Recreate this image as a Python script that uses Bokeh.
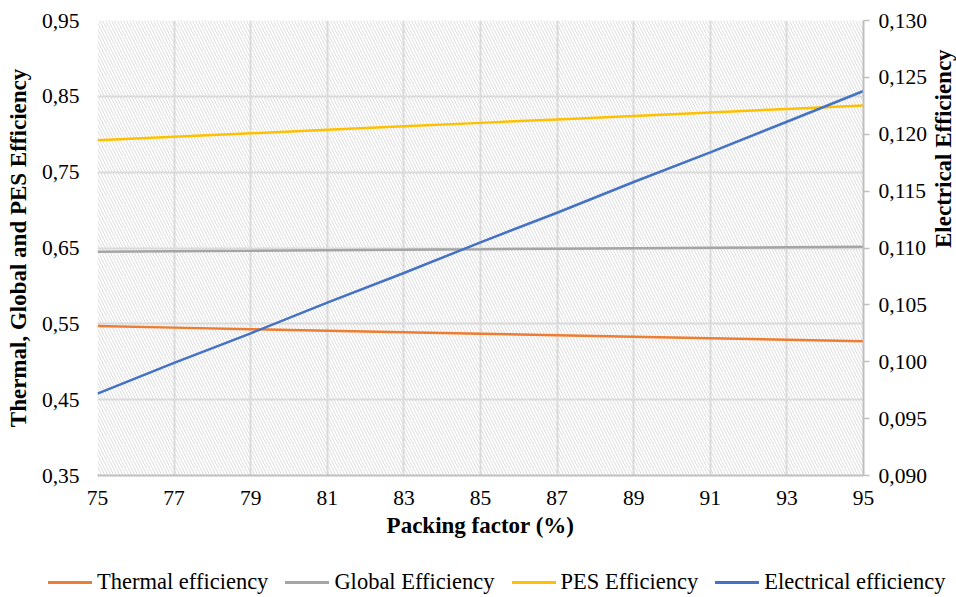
import math
from bokeh.plotting import figure
from bokeh.layouts import column
from bokeh.models import (Range1d, LinearAxis, FixedTicker, CustomJSTickFormatter,
                          BoxAnnotation, Div)
from bokeh.embed import file_html
from bokeh.resources import INLINE

# ---- data ----
packing = [75, 77, 79, 81, 83, 85, 87, 89, 91, 93, 95]
thermal = [0.547, 0.545, 0.543, 0.541, 0.539, 0.537, 0.535, 0.533, 0.531, 0.529, 0.527]
global_eff = [0.645, 0.6457, 0.6463, 0.647, 0.6477, 0.6483, 0.649, 0.6497, 0.6503, 0.651, 0.6515]
pes = [0.792, 0.7966, 0.8012, 0.8058, 0.8104, 0.815, 0.8196, 0.8242, 0.8288, 0.8334, 0.838]
electrical = [0.0972, 0.0999, 0.1025, 0.1052, 0.1078, 0.1105, 0.1131, 0.1158, 0.1184, 0.1211, 0.1238]

x_ticks = [75, 77, 79, 81, 83, 85, 87, 89, 91, 93, 95]
left_ticks = [0.35, 0.45, 0.55, 0.65, 0.75, 0.85, 0.95]
right_ticks = [0.090, 0.095, 0.100, 0.105, 0.110, 0.115, 0.120, 0.125, 0.130]

series_names = ["Thermal efficiency", "Global Efficiency", "PES Efficiency", "Electrical efficiency"]
colors = ["#ED7D31", "#A5A5A5", "#FFC000", "#4472C4"]

FONT = "Liberation Serif"
GRID = "#D9D9D9"
TICK_FS = "21.5px"
TITLE_FS = "23px"

p = figure(frame_width=766, frame_height=455, output_backend="svg", toolbar_location=None,
           x_range=Range1d(75, 95), y_range=Range1d(0.35, 0.95),
           min_border_left=97, min_border_right=93, min_border_top=20, min_border_bottom=86)
p.outline_line_color = None
p.background_fill_color = "white"

# hatched plot area
p.add_layout(BoxAnnotation(left=75, right=95, bottom=0.35, top=0.95,
                           fill_alpha=0, line_color=None,
                           hatch_pattern="left_diagonal_line", hatch_color="#DDDDDD",
                           hatch_scale=6, hatch_weight=1, hatch_alpha=1.0, level="underlay"))

p.extra_y_ranges = {"elec": Range1d(0.090, 0.130)}

# axes
p.xaxis.ticker = FixedTicker(ticks=x_ticks)
p.xaxis.axis_label = "Packing factor (%)"
p.yaxis.ticker = FixedTicker(ticks=left_ticks)
p.yaxis.axis_label = "Thermal, Global and PES Efficiency"
p.yaxis.formatter = CustomJSTickFormatter(code="return tick.toFixed(2).replace('.', ',');")

raxis = LinearAxis(y_range_name="elec", ticker=FixedTicker(ticks=right_ticks),
                   formatter=CustomJSTickFormatter(code="return tick.toFixed(3).replace('.', ',');"),
                   axis_label="Electrical Efficiency")
try:
    raxis.axis_label_orientation = math.pi / 2
except Exception:
    pass
p.add_layout(raxis, "right")

for ax in [p.xaxis[0], p.yaxis[0], raxis]:
    ax.major_label_text_font = FONT
    ax.major_label_text_font_size = TICK_FS
    ax.major_label_text_color = "#000000"
    ax.axis_label_text_font = FONT
    ax.axis_label_text_font_style = "bold"
    ax.axis_label_text_font_size = TITLE_FS
    ax.axis_label_text_color = "#000000"
    ax.minor_tick_line_color = None

p.xaxis.major_tick_line_color = None
p.yaxis.major_tick_line_color = None
p.yaxis.axis_line_color = None
p.yaxis.major_label_standoff = 12
p.yaxis.axis_label_standoff = 8
p.xaxis.axis_line_color = "#BFBFBF"
p.xaxis.axis_line_width = 2
p.xaxis.major_label_standoff = 9
p.xaxis.axis_label_standoff = 5

raxis.axis_line_color = "#BFBFBF"
raxis.axis_line_width = 2
raxis.major_tick_line_color = "#BFBFBF"
raxis.major_tick_line_width = 1.5
raxis.major_tick_out = 6
raxis.major_tick_in = 0
raxis.major_label_standoff = 9
raxis.axis_label_standoff = 14

# grids
p.xgrid.ticker = FixedTicker(ticks=x_ticks)
p.ygrid.ticker = FixedTicker(ticks=left_ticks)
p.grid.grid_line_color = GRID
p.grid.grid_line_width = 2

# lines
p.line(packing, thermal, line_color=colors[0], line_width=2.5)
p.line(packing, global_eff, line_color=colors[1], line_width=2.5)
p.line(packing, pes, line_color=colors[2], line_width=2.5)
p.line(packing, electrical, line_color=colors[3], line_width=2.5, y_range_name="elec")

# legend strip below the chart (HTML)
items_html = "".join(
    f'<span style="display:inline-block;width:44px;height:3px;background:{c};margin-right:5px;"></span>'
    f'<span style="margin-right:17px;">{n}</span>'
    for n, c in zip(series_names, colors)
)
legend_div = Div(
    text=(f'<div style="display:flex;align-items:center;padding-left:48px;padding-top:8px;'
          f'font-family:\'{FONT}\';font-size:22.5px;line-height:26px;color:#000;white-space:nowrap;">'
          f'{items_html}</div>'),
    width=940, height=36, margin=0)

layout = column(p, legend_div, spacing=0)
open("out.html", "w").write(file_html(layout, INLINE))
